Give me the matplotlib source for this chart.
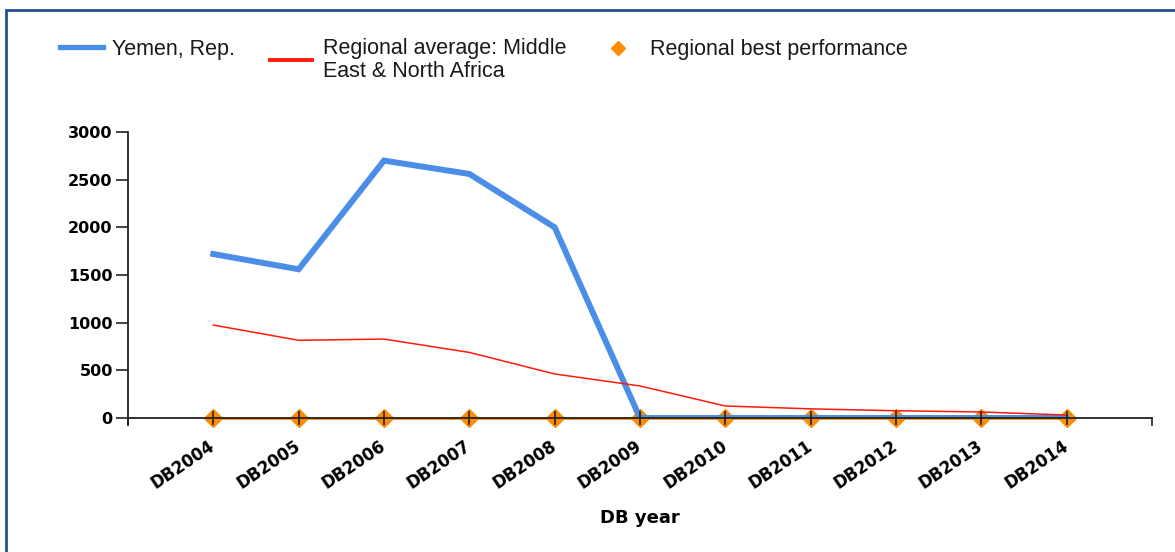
import numpy as np
import matplotlib.pyplot as plt
from matplotlib.lines import Line2D
from matplotlib.patches import Rectangle

# Data
years = ['DB2004', 'DB2005', 'DB2006', 'DB2007', 'DB2008', 'DB2009',
         'DB2010', 'DB2011', 'DB2012', 'DB2013', 'DB2014']
yemen = [1720, 1560, 2700, 2560, 2000, 0, 0, 0, 0, 0, 0]
regional_avg = [975, 815, 828, 688, 462, 336, 126, 96, 76, 63, 31]
regional_best = [0, 0, 0, 0, 0, 0, 0, 0, 0, 0, 0]

blue = '#4a8ee8'
red = '#ff1a0a'
orange = '#ff8c00'

plt.rcParams['font.family'] = ['DejaVu Sans']

fig = plt.figure(figsize=(11.75, 5.52), dpi=100)
ax = fig.add_axes([128/1175, 1 - 418/552, 1024/1175, 286/552])

x = np.arange(len(years))
ax.plot(x, yemen, color=blue, lw=4.3, solid_joinstyle='miter', zorder=2.1)
ax.plot(x, regional_avg, color=red, lw=1.1, zorder=2.2)
ax.plot(x, regional_best, color=orange, lw=2, marker='D', ms=9,
        mec=orange, zorder=2.0, clip_on=False)

ax.set_xlim(-1, 11)
ax.set_ylim(0, 3000)
ax.set_axisbelow(False)

for s in ['top', 'right']:
    ax.spines[s].set_visible(False)
ax.spines['left'].set_bounds(-60, 3000)
for s in ['left', 'bottom']:
    ax.spines[s].set_color('#222222')
    ax.spines[s].set_linewidth(1.3)
    ax.spines[s].set_zorder(3)

ax.set_yticks([0, 500, 1000, 1500, 2000, 2500, 3000])
ax.set_yticklabels(['0', '500', '1000', '1500', '2000', '2500', '3000'],
                   fontweight='bold', fontsize=11.5)
ax.tick_params(axis='y', direction='out', length=9, width=1.2,
               color='#222222', pad=2)

ax.set_xticks(x)
ax.set_xticklabels(years, rotation=34, ha='right', va='center',
                   rotation_mode='anchor', fontweight='bold', fontsize=12)
ax.set_xticks([-1, 11], minor=True)
ax.tick_params(axis='x', which='major', direction='inout', length=10,
               width=1.2, color='#222222', pad=14)
ax.tick_params(axis='x', which='minor', direction='out', length=6,
               width=1.2, color='#222222')
ax.set_xlabel('DB year', fontweight='bold', fontsize=13, labelpad=12)

# legend drawn by hand to match the reference layout
fs = 15.5
fig.add_artist(Line2D([60/1175, 103/1175], [1 - 47/552, 1 - 47/552],
                      color=blue, lw=3.8, transform=fig.transFigure))
fig.text(112/1175, 1 - 49/552, 'Yemen, Rep.', fontsize=fs,
         family='Liberation Sans', va='center', ha='left', color='#1a1a1a')
fig.add_artist(Line2D([270/1175, 312/1175], [1 - 60/552, 1 - 60/552],
                      color=red, lw=2.8, transform=fig.transFigure))
fig.text(323/1175, 1 - 38/552, 'Regional average: Middle\nEast & North Africa',
         fontsize=fs, family='Liberation Sans', va='top', ha='left',
         linespacing=1.13, color='#1a1a1a')
fig.add_artist(Line2D([618/1175], [1 - 48/552], marker='D', ms=7,
                      color=orange, lw=0, transform=fig.transFigure))
fig.text(650/1175, 1 - 49/552, 'Regional best performance', fontsize=fs,
         family='Liberation Sans', va='center', ha='left', color='#1a1a1a')

# outer blue frame (only left and top edges visible)
fig.add_artist(Rectangle((6/1175, -0.2), 1.2, 1.2 - 10/552,
                         fill=False, ec='#1f4f8f', lw=2,
                         transform=fig.transFigure))

fig.savefig('out.png', dpi=100)
